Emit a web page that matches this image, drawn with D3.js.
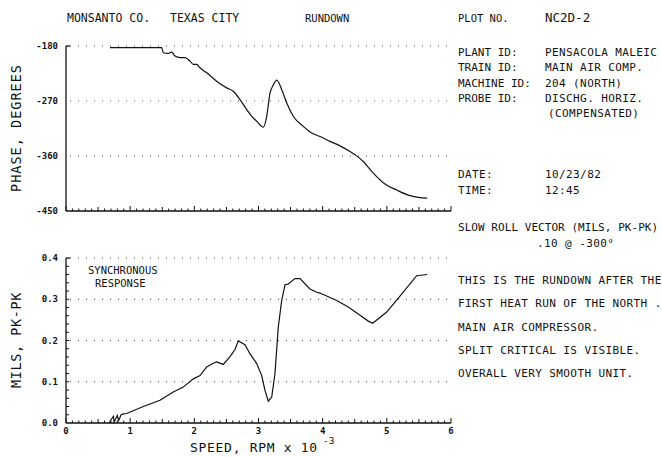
<!DOCTYPE html>
<html>
<head>
<meta charset="utf-8">
<script src="https://cdn.jsdelivr.net/npm/d3@7"></script>
<style>
  body { margin: 0; background: #fff; }
  svg text { font-family: "DejaVu Sans Mono", "Liberation Mono", monospace; fill: #111; }
</style>
</head>
<body>
<div id="chart"></div>
<script>
const speedTicks = [0, 1, 2, 3, 4, 5, 6];
const phaseTicks = [-180, -270, -360, -450];
const ampTicks = [0, 0.1, 0.2, 0.3, 0.4];

const phaseRpm = [0.686, 1.49, 1.516, 1.594, 1.647, 1.699, 1.777, 1.855, 1.932, 1.984, 2.037, 2.088,
    2.193, 2.348, 2.504, 2.607, 2.712, 2.816, 2.919, 2.972, 3.075, 3.128, 3.18, 3.221, 3.284, 3.361,
    3.439, 3.542, 3.698, 3.829, 3.958, 4.114, 4.27, 4.426, 4.53, 4.633, 4.789, 4.971, 5.153, 5.334,
    5.49, 5.63];
const phaseDeg = [-182.7, -182.7, -191, -192, -190, -196.5, -199, -199, -204.7, -210, -210, -215.6,
    -223.8, -237.6, -248.5, -254, -267.7, -284, -297.8, -303, -312.7, -295, -256.7, -245.8, -235.9, -251,
    -273, -295, -311.6, -322.5, -328, -336, -343.4, -352.7, -359.8, -369, -388, -405.9, -415.7, -424,
    -427.8, -429];

const ampRpm = [0.675, 0.70, 0.74, 0.75, 0.80, 0.82, 0.86, 0.90, 0.946, 1.205, 1.465, 1.672, 1.828,
    1.984, 2.088, 2.193, 2.295, 2.348, 2.451, 2.556, 2.634, 2.685, 2.789, 2.867, 2.972, 3.05, 3.101,
    3.153, 3.206, 3.257, 3.308, 3.361, 3.413, 3.464, 3.569, 3.647, 3.802, 3.907, 3.958, 4.219, 4.399,
    4.582, 4.711, 4.78, 4.998, 5.256, 5.465, 5.63];
const ampMils = [0, 0.008, 0.016, 0.002, 0.018, 0.006, 0.02, 0.022, 0.023, 0.040, 0.055, 0.075, 0.087,
    0.107, 0.115, 0.136, 0.145, 0.148, 0.142, 0.161, 0.178, 0.199, 0.190, 0.168, 0.144, 0.115, 0.079,
    0.053, 0.063, 0.12, 0.232, 0.297, 0.335, 0.337, 0.35, 0.35, 0.325, 0.317, 0.315, 0.297, 0.281,
    0.261, 0.247, 0.242, 0.269, 0.317, 0.357, 0.36];

const headerText = ["MONSANTO CO.", "TEXAS CITY", "RUNDOWN", "PLOT NO.", "NC2D-2"];
const infoLabels = ["PLANT ID:", "TRAIN ID:", "MACHINE ID:", "PROBE ID:", ""];
const infoValues = ["PENSACOLA MALEIC", "MAIN AIR COMP.", "204 (NORTH)", "DISCHG. HORIZ.", "(COMPENSATED)"];
const dateLabels = ["DATE:", "TIME:"];
const dateValues = ["10/23/82", "12:45"];
const slowRoll = ["SLOW ROLL VECTOR (MILS, PK-PK)", ".10 @  -300°"];
const notes = ["THIS IS THE RUNDOWN AFTER THE", "FIRST HEAT RUN OF THE NORTH .",
    "MAIN AIR COMPRESSOR.", "SPLIT CRITICAL IS VISIBLE.", "OVERALL  VERY SMOOTH UNIT."];

(function() {
    const width = 662, height = 457;
    const left = 66, right = 451;
    const top1 = 46, bot1 = 211, top2 = 258, bot2 = 423;

    const svg = d3.select("#chart").append("svg")
        .attr("width", width)
        .attr("height", height);

    const x = d3.scaleLinear().domain([0, 6]).range([left, right]);
    const yPhase = d3.scaleLinear().domain([-450, -180]).range([bot1, top1]);
    const yAmp = d3.scaleLinear().domain([0, 0.4]).range([bot2, top2]);

    function drawFrame(y, ticks, fmt, yMinor) {
        const g = svg.append("g");
        const [y0, y1] = y.range();

        // dotted grid
        g.selectAll(".grid").data(ticks.filter(t => t !== y.domain()[0])).enter().append("line")
            .attr("x1", left + 4).attr("x2", right)
            .attr("y1", d => y(d)).attr("y2", d => y(d))
            .attr("stroke", "#444").attr("stroke-width", 1)
            .attr("stroke-dasharray", "1,7");

        g.append("line")
            .attr("x1", left).attr("x2", left).attr("y1", y1).attr("y2", y0)
            .attr("stroke", "#111").attr("stroke-width", 1.3);
        g.append("line")
            .attr("x1", left).attr("x2", right).attr("y1", y0).attr("y2", y0)
            .attr("stroke", "#111").attr("stroke-width", 1.3);
        g.append("line")
            .attr("x1", left).attr("x2", left + 4).attr("y1", y1).attr("y2", y1)
            .attr("stroke", "#111").attr("stroke-width", 1.3);

        g.selectAll(".minor").data(yMinor).enter().append("line")
            .attr("x1", left).attr("x2", left + 3)
            .attr("y1", d => y(d)).attr("y2", d => y(d))
            .attr("stroke", "#111").attr("stroke-width", 1);

        const xt = d3.range(0, 61).map(i => i / 10);
        g.selectAll(".xtick").data(xt).enter().append("line")
            .attr("x1", d => x(d)).attr("x2", d => x(d))
            .attr("y1", y0)
            .attr("y2", (d, i) => y0 - (i % 10 === 0 ? 5 : i % 5 === 0 ? 4 : 2.5))
            .attr("stroke", "#111").attr("stroke-width", 1);

        g.selectAll(".ylab").data(ticks).enter().append("text")
            .attr("x", 58).attr("y", d => y(d) + 3)
            .attr("text-anchor", "end")
            .attr("font-size", 9).attr("font-weight", "bold")
            .text(fmt);
    }

    drawFrame(yPhase, phaseTicks, d => d, []);
    drawFrame(yAmp, ampTicks, d => d.toFixed(1), d3.range(1, 20).map(i => i * 0.02));

    svg.selectAll(".xlab").data(speedTicks).enter().append("text")
        .attr("x", d => x(d)).attr("y", 434)
        .attr("text-anchor", "middle")
        .attr("font-size", 9).attr("font-weight", "bold")
        .text(d => d);

    const phaseLine = d3.line().x(d => x(d[0])).y(d => yPhase(d[1])).curve(d3.curveMonotoneX);
    const ampLine = d3.line().x(d => x(d[0])).y(d => yAmp(d[1]));

    svg.append("path")
        .datum(d3.zip(phaseRpm, phaseDeg))
        .attr("d", phaseLine)
        .attr("fill", "none").attr("stroke", "#111").attr("stroke-width", 1.2);
    svg.append("path")
        .datum(d3.zip(ampRpm, ampMils))
        .attr("d", ampLine)
        .attr("fill", "none").attr("stroke", "#111").attr("stroke-width", 1.2);

    // axis titles
    svg.append("text")
        .attr("transform", "translate(21,128) rotate(-90)")
        .attr("text-anchor", "middle").attr("font-size", 13.5)
        .attr("letter-spacing", 1)
        .text("PHASE, DEGREES");
    svg.append("text")
        .attr("transform", "translate(21,340) rotate(-90)")
        .attr("text-anchor", "middle").attr("font-size", 13.5)
        .attr("letter-spacing", 0.6)
        .text("MILS, PK-PK");
    const xt = svg.append("text").attr("x", 190).attr("y", 452)
        .attr("font-size", 13).attr("letter-spacing", 0.7);
    xt.append("tspan").text("SPEED, RPM x 10");
    xt.append("tspan").attr("dx", 5).attr("dy", -8).attr("font-size", 9.5).attr("letter-spacing", 0).text("-3");

    svg.append("text").attr("x", 88).attr("y", 274).attr("font-size", 10.5).text("SYNCHRONOUS");
    svg.append("text").attr("x", 95).attr("y", 287).attr("font-size", 10.5).text("RESPONSE");

    // header
    const headX = [67, 170, 305, 458, 545];
    const headSize = [11.5, 11.5, 10.5, 10.5, 12.5];
    svg.selectAll(".head").data(headerText).enter().append("text")
        .attr("x", (d, i) => headX[i]).attr("y", 22)
        .attr("font-size", (d, i) => headSize[i])
        .text(d => d);

    const info = svg.append("g").attr("font-size", 11).attr("letter-spacing", 0.4);
    info.selectAll(".il").data(infoLabels).enter().append("text")
        .attr("x", 458).attr("y", (d, i) => 56 + i * 15.3).attr("letter-spacing", 0).text(d => d);
    info.selectAll(".iv").data(infoValues).enter().append("text")
        .attr("x", (d, i) => i === 4 ? 548 : 545).attr("y", (d, i) => 56 + i * 15.3).text(d => d);
    info.selectAll(".dl").data(dateLabels).enter().append("text")
        .attr("x", 458).attr("y", (d, i) => 178 + i * 16).text(d => d);
    info.selectAll(".dv").data(dateValues).enter().append("text")
        .attr("x", 545).attr("y", (d, i) => 178 + i * 16).text(d => d);
    info.selectAll(".sr").data(slowRoll).enter().append("text")
        .attr("x", (d, i) => i === 0 ? 458 : 537).attr("y", (d, i) => 231 + i * 16)
        .attr("letter-spacing", (d, i) => i === 0 ? 0.05 : 0.4)
        .text(d => d);
    info.selectAll(".nt").data(notes).enter().append("text")
        .attr("x", 458).attr("y", (d, i) => 284 + i * 23.3).text(d => d);
})();
</script>
</body>
</html>
